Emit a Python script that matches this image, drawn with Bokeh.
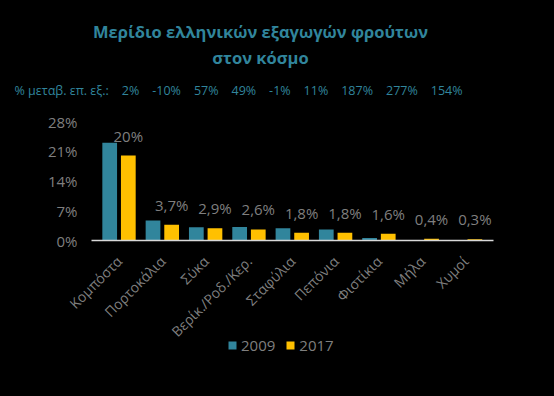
from math import pi
from bokeh.plotting import figure
from bokeh.layouts import column
from bokeh.models import (ColumnDataSource, Legend, LegendItem, FactorRange, FixedTicker,
                          PrintfTickFormatter, Label)
from bokeh.transform import dodge
from bokeh.embed import file_html
from bokeh.resources import INLINE
from bokeh.core.properties import value

categories = ["Κομπόστα", "Πορτοκάλια", "Σύκα", "Βερίκ./Ροδ./Κερ.", "Σταφύλια",
              "Πεπόνια", "Φιστίκια", "Μήλα", "Χυμοί"]
share_2009 = [23.0, 4.7, 3.1, 3.2, 2.9, 2.6, 0.6, 0.1, 0.1]
share_2017 = [20.0, 3.7, 2.9, 2.6, 1.8, 1.8, 1.6, 0.4, 0.3]
labels_2017 = ["20%", "3,7%", "2,9%", "2,6%", "1,8%", "1,8%", "1,6%", "0,4%", "0,3%"]
export_change = ["2%", "-10%", "57%", "49%", "-1%", "11%", "187%", "277%", "154%"]
y_ticks = [0, 7, 14, 21, 28]

title_1 = "Μερίδιο ελληνικών εξαγωγών φρούτων"
title_2 = "στον κόσμο"
sub_prefix = "% μεταβ. επ. εξ.:"

BLUE = "#31859C"
YELLOW = "#FFC000"
GRAY = "#7f7f7f"
FONT = "Open Sans"
NB = "\u00a0"

W, H = 554, 396
FL, FR, FT, FB = 91, 493, 121, 240  # frame edges in px (incl. small padding)

src = ColumnDataSource(dict(cat=categories, y09=share_2009, y17=share_2017, lab=labels_2017))

xr = FactorRange(*categories, range_padding=0.14, range_padding_units="absolute")
p = figure(width=W, height=H, x_range=xr, y_range=(0, 28),
           output_backend="svg", toolbar_location=None, title=None,
           min_border_left=FL, min_border_right=W - FR, min_border_top=FT,
           min_border_bottom=H - FB)
p.background_fill_color = "black"
p.border_fill_color = "black"
p.outline_line_color = None
p.grid.grid_line_color = None

r09 = p.vbar(x=dodge("cat", -0.22, range=p.x_range), top="y09", width=0.34,
             source=src, color=BLUE, line_color=None)
r17 = p.vbar(x=dodge("cat", 0.21, range=p.x_range), top="y17", width=0.34,
             source=src, color=YELLOW, line_color=None)

p.text(x=dodge("cat", 0.21, range=p.x_range), y="y17", text="lab", source=src,
       text_align="center", text_baseline="middle", y_offset=-20,
       text_font=value(FONT), text_font_size="15px", text_color=GRAY)

# axes
p.yaxis.ticker = FixedTicker(ticks=y_ticks)
p.yaxis.formatter = PrintfTickFormatter(format="%d%%")
p.yaxis.axis_line_color = None
p.yaxis.major_tick_line_color = None
p.yaxis.minor_tick_line_color = None
p.yaxis.major_label_standoff = 8
p.yaxis.major_label_text_color = GRAY
p.yaxis.major_label_text_font = FONT
p.yaxis.major_label_text_font_size = "15px"

p.xaxis.axis_line_color = "#d9d9d9"
p.xaxis.axis_line_width = 1.5
p.xaxis.major_tick_line_color = None
p.xaxis.minor_tick_line_color = None
p.xaxis.major_label_orientation = pi / 4
p.xaxis.major_label_standoff = 12
p.xaxis.major_label_text_color = GRAY
p.xaxis.major_label_text_font = FONT
p.xaxis.major_label_text_font_size = "14px"

# transparent overlay (pixel coordinates, y downward) for titles and legend
ov = figure(width=W, height=H, x_range=(0, W), y_range=(H, 0),
            output_backend="svg", toolbar_location=None, title=None,
            x_axis_type=None, y_axis_type=None,
            min_border_left=0, min_border_right=0, min_border_top=0, min_border_bottom=0)
ov.background_fill_alpha = 0
ov.border_fill_alpha = 0
ov.outline_line_color = None
ov.margin = (-H, 0, 0, 0)
try:
    ov.frame_align = False
    p.frame_align = False
except Exception:
    pass

ov.add_layout(Label(x=260, y=31, text=title_1, text_align="center",
                    text_baseline="alphabetic", text_font=FONT, text_font_size="16.5px",
                    text_font_style="bold", text_color=BLUE))
ov.add_layout(Label(x=260, y=57, text=title_2, text_align="center",
                    text_baseline="alphabetic", text_font=FONT, text_font_size="16.5px",
                    text_font_style="bold", text_color=BLUE))
sep = NB * 3 + " "
ov.add_layout(Label(x=14, y=90, text=sub_prefix + sep + sep.join(export_change),
                    text_align="left", text_baseline="alphabetic", text_font=FONT,
                    text_font_size="12.5px", text_color=BLUE))

nan = float("nan")
k09 = ov.vbar(x=[nan], top=[nan], width=1, fill_color=BLUE, line_color=None)
k17 = ov.vbar(x=[nan], top=[nan], width=1, fill_color=YELLOW, line_color=None)
legend = Legend(items=[LegendItem(label="2009", renderers=[k09]),
                       LegendItem(label="2017", renderers=[k17])],
                orientation="horizontal", location=(227, 41),
                background_fill_alpha=0, border_line_color=None,
                label_text_color=GRAY, label_text_font=FONT, label_text_font_size="15px",
                glyph_width=10, glyph_height=10, label_height=20, label_standoff=4,
                spacing=10, padding=0, margin=0)
ov.add_layout(legend, "center")

layout = column(p, ov, spacing=0)

html = file_html(layout, INLINE)
html = html.replace("<head>", "<head><style>html,body{background:#000;}</style>", 1)
open("out.html", "w").write(html)
